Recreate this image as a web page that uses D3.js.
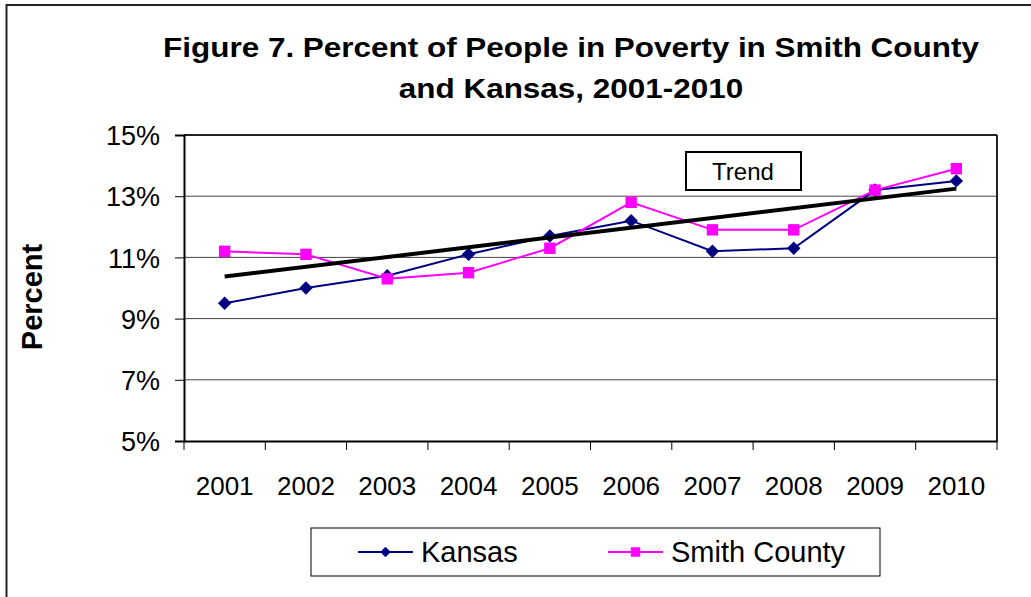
<!DOCTYPE html>
<html lang="en">
    <head>
        <meta charset="utf-8">
        <title>Percent of People in Poverty in Smith County and Kansas</title>
        <style>
            body { margin : 0; background : #fff; }
            text { font-family : "Liberation Sans", Arial, sans-serif; }
        </style>
    </head>
    <body>
        <div id="chart"></div>

    <script type="text/javascript" src="https://cdn.jsdelivr.net/npm/d3@7/dist/d3.min.js" charset="utf-8"></script>
    <script>

    // data
    var years = [ "2001" , "2002" , "2003" , "2004" , "2005" , "2006" , "2007" , "2008" , "2009" , "2010" ];
    var kansas = [ 9.5 , 10.0 , 10.4 , 11.1 , 11.7 , 12.2 , 11.2 , 11.3 , 13.2 , 13.5 ];
    var smith = [ 11.2 , 11.1 , 10.3 , 10.5 , 11.3 , 12.8 , 11.9 , 11.9 , 13.2 , 13.9 ];
    var y_ticks = [ 5 , 7 , 9 , 11 , 13 , 15 ];
    var title_lines = [ "Figure 7. Percent of People in Poverty in Smith County" , "and Kansas, 2001-2010" ];
    var series_names = [ "Kansas" , "Smith County" ];

    var width = 1031 , height = 597;
    var plot_left = 184 , plot_right = 997 , plot_top = 135 , plot_bottom = 441;

    var svg = d3.select( "#chart" ).append( "svg" )
        .attr( "width" , width )
        .attr( "height" , height );

    // outer frame (right and bottom edges fall outside the picture)
    svg.append( "rect" )
        .attr( "x" , 6.5 ).attr( "y" , 5 )
        .attr( "width" , width + 20 ).attr( "height" , height + 20 )
        .style( "fill" , "none" ).style( "stroke" , "#222" ).style( "stroke-width" , 2 );

    // title, stretched wide like the original
    svg.selectAll( ".title" )
        .data( title_lines )
        .enter().append( "text" )
            .attr( "class" , "title" )
            .attr( "transform" , function( d , i ) { return "translate(571," + ( 57 + i * 41 ) + ") scale(1.165,1)"; } )
            .attr( "text-anchor" , "middle" )
            .style( "font-size" , "27px" )
            .style( "font-weight" , "bold" )
            .text( function( d ) { return d; } );

    var x = d3.scaleBand().domain( years ).range( [ plot_left , plot_right ] );
    var y = d3.scaleLinear().domain( [ 5 , 15 ] ).range( [ plot_bottom , plot_top ] );

    // gridlines
    svg.selectAll( ".grid" )
        .data( y_ticks.slice( 1 ) )
        .enter().append( "line" )
            .attr( "class" , "grid" )
            .attr( "x1" , plot_left ).attr( "x2" , plot_right )
            .attr( "y1" , function( d ) { return y( d ); } )
            .attr( "y2" , function( d ) { return y( d ); } )
            .style( "stroke" , "#444" ).style( "stroke-width" , 1 );

    // plot frame
    svg.append( "line" )
        .attr( "x1" , plot_right ).attr( "x2" , plot_right ).attr( "y1" , plot_top ).attr( "y2" , plot_bottom )
        .style( "stroke" , "#222" ).style( "stroke-width" , 2 );
    svg.append( "line" )
        .attr( "x1" , plot_left ).attr( "x2" , plot_right ).attr( "y1" , plot_top ).attr( "y2" , plot_top )
        .style( "stroke" , "#222" ).style( "stroke-width" , 2 );

    // y axis
    var y_axis = svg.append( "g" )
        .attr( "transform" , "translate(" + plot_left + ",0)" )
        .call( d3.axisLeft( y ).tickValues( y_ticks ).tickSize( 9 ).tickPadding( 15 )
            .tickFormat( function( d ) { return d + "%"; } ) );
    y_axis.select( ".domain" ).style( "stroke" , "#000" ).style( "stroke-width" , 2 );
    y_axis.selectAll( ".tick line" ).style( "stroke" , "#000" ).style( "stroke-width" , 1 );
    y_axis.selectAll( "text" )
        .style( "font-size" , "27px" )
        .style( "font-family" , "'Liberation Sans', Arial, sans-serif" )
        .attr( "dy" , "0.36em" )
        .attr( "fill" , "#000" );

    // x axis, ticks between categories
    var x_axis = svg.append( "g" )
        .attr( "transform" , "translate(0," + plot_bottom + ")" )
        .call( d3.axisBottom( x ).tickSize( 0 ).tickPadding( 36 ) );
    x_axis.select( ".domain" ).style( "stroke" , "#000" ).style( "stroke-width" , 2 );
    x_axis.selectAll( "text" )
        .style( "font-size" , "26px" )
        .style( "font-family" , "'Liberation Sans', Arial, sans-serif" )
        .attr( "fill" , "#000" );

    var bounds = years.map( function( d ) { return x( d ); } ).concat( [ plot_right ] );
    svg.selectAll( ".xtick" )
        .data( bounds )
        .enter().append( "line" )
            .attr( "class" , "xtick" )
            .attr( "x1" , function( d ) { return d; } )
            .attr( "x2" , function( d ) { return d; } )
            .attr( "y1" , plot_bottom ).attr( "y2" , plot_bottom + 9 )
            .style( "stroke" , "#000" ).style( "stroke-width" , 1 );

    // y axis title
    svg.append( "text" )
        .attr( "transform" , "translate(42,297) rotate(-90)" )
        .attr( "text-anchor" , "middle" )
        .style( "font-size" , "29px" )
        .style( "font-weight" , "bold" )
        .text( "Percent" );

    var cx = function( d , i ) { return x( years[ i ] ) + x.bandwidth() / 2; };
    var line = d3.line().x( cx ).y( function( d ) { return y( d ); } );

    var diamond = d3.symbol().type( d3.symbolDiamond2 ).size( 115 );
    var square = d3.symbol().type( d3.symbolSquare ).size( 130 );

    // Kansas
    svg.append( "path" )
        .datum( kansas )
        .attr( "d" , line )
        .style( "fill" , "none" ).style( "stroke" , "#000080" ).style( "stroke-width" , 2 );
    svg.selectAll( ".kpt" )
        .data( kansas )
        .enter().append( "path" )
            .attr( "class" , "kpt" )
            .attr( "d" , diamond )
            .attr( "transform" , function( d , i ) { return "translate(" + cx( d , i ) + "," + y( d ) + ")"; } )
            .style( "fill" , "#000080" );

    // Smith County
    svg.append( "path" )
        .datum( smith )
        .attr( "d" , line )
        .style( "fill" , "none" ).style( "stroke" , "#ff00ff" ).style( "stroke-width" , 2 );
    svg.selectAll( ".spt" )
        .data( smith )
        .enter().append( "path" )
            .attr( "class" , "spt" )
            .attr( "d" , square )
            .attr( "transform" , function( d , i ) { return "translate(" + cx( d , i ) + "," + y( d ) + ")"; } )
            .style( "fill" , "#ff00ff" );

    // linear trend of Smith County
    var n = smith.length;
    var mx = ( n - 1 ) / 2;
    var my = d3.mean( smith );
    var sxy = 0 , sxx = 0;
    for( var i=0 ; i<n ; i++ )
    {
        sxy += ( i - mx ) * ( smith[i] - my );
        sxx += ( i - mx ) * ( i - mx );
    }
    var slope = sxy / sxx;
    var trend = [ my - slope * mx , my + slope * ( n - 1 - mx ) ];
    svg.append( "line" )
        .attr( "x1" , cx( null , 0 ) ).attr( "x2" , cx( null , n - 1 ) )
        .attr( "y1" , y( trend[0] ) ).attr( "y2" , y( trend[1] ) )
        .style( "stroke" , "#000" ).style( "stroke-width" , 4 );

    // trend label
    svg.append( "rect" )
        .attr( "x" , 686 ).attr( "y" , 152 ).attr( "width" , 115 ).attr( "height" , 38 )
        .style( "fill" , "#fff" ).style( "stroke" , "#000" ).style( "stroke-width" , 2 );
    svg.append( "text" )
        .attr( "x" , 743 ).attr( "y" , 180 )
        .attr( "text-anchor" , "middle" )
        .style( "font-size" , "24px" )
        .text( "Trend" );

    // legend
    svg.append( "rect" )
        .attr( "x" , 311 ).attr( "y" , 528 ).attr( "width" , 569 ).attr( "height" , 48 )
        .style( "fill" , "#fff" ).style( "stroke" , "#000" ).style( "stroke-width" , 1 );

    var legend_x = [ 358 , 608 ];
    var legend_colors = [ "#000080" , "#ff00ff" ];
    var legend_symbols = [ d3.symbol().type( d3.symbolDiamond2 ).size( 70 ) , d3.symbol().type( d3.symbolSquare ).size( 90 ) ];
    var legend = svg.selectAll( ".legend" )
        .data( series_names )
        .enter().append( "g" )
            .attr( "class" , "legend" )
            .attr( "transform" , function( d , i ) { return "translate(" + legend_x[i] + ",552)"; } );
    legend.append( "line" )
        .attr( "x1" , 0 ).attr( "x2" , 55 )
        .style( "stroke" , function( d , i ) { return legend_colors[i]; } )
        .style( "stroke-width" , 2 );
    legend.append( "path" )
        .attr( "d" , function( d , i ) { return legend_symbols[i](); } )
        .attr( "transform" , "translate(27.5,0)" )
        .style( "fill" , function( d , i ) { return legend_colors[i]; } );
    legend.append( "text" )
        .attr( "x" , 63 ).attr( "y" , 10 )
        .style( "font-size" , "29px" )
        .text( function( d ) { return d; } );

    </script>
    </body>
</html>
